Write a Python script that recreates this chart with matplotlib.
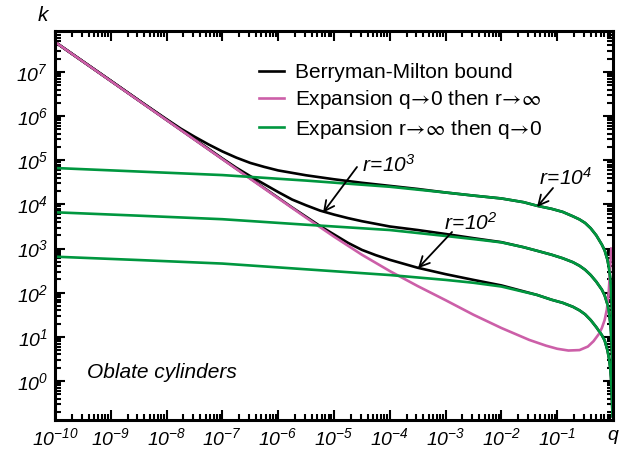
import numpy as np
import matplotlib
matplotlib.use('Agg')
import matplotlib.pyplot as plt
from matplotlib.lines import Line2D
from matplotlib.font_manager import FontProperties
from matplotlib.ticker import FixedLocator, FixedFormatter, LogLocator, NullFormatter

plt.rcParams['font.family'] = ['Liberation Sans', 'DejaVu Sans']
plt.rcParams['mathtext.fontset'] = 'custom'
plt.rcParams['mathtext.rm'] = 'Liberation Sans:italic'
plt.rcParams['mathtext.it'] = 'Liberation Sans:italic'
plt.rcParams['mathtext.bf'] = 'Liberation Sans:bold:italic'

# Values, as log10(q) and log10(k)
# Expansion q->0 then r->inf (one curve)
magenta_logq = [-10.0, -9.0, -8.0, -7.0, -6.5, -6.0, -5.5, -5.0, -4.5, -4.0, -3.5, -3.0,
                -2.5, -2.0, -1.5, -1.2, -1.0, -0.8, -0.6, -0.45, -0.35, -0.25, -0.2,
                -0.15, -0.11, -0.08, -0.06, -0.045, -0.03]
magenta_logk = [7.68, 6.795, 5.91, 5.025, 4.58, 4.14, 3.70, 3.27, 2.86, 2.49, 2.15, 1.83,
                1.50, 1.20, 0.93, 0.80, 0.73, 0.69, 0.70, 0.78, 0.90, 1.07, 1.20,
                1.38, 1.62, 1.95, 2.35, 2.70, 3.00]

# Expansion r->inf then q->0, r = 1e4, 1e3, 1e2
green_logq = [-10.0, -8.5, -7.0, -5.5, -4.0, -3.0, -2.5, -2.0, -1.6, -1.362, -1.1, -0.9,
              -0.717, -0.6, -0.5, -0.4, -0.3, -0.2, -0.15, -0.1, -0.07, -0.05, -0.036,
              -0.025, -0.015, -0.008]
green4_logk = [4.825, 4.745, 4.665, 4.54, 4.40, 4.27, 4.20, 4.135, 4.05, 3.97, 3.90, 3.83,
               3.73, 3.66, 3.58, 3.46, 3.30, 3.09, 2.96, 2.75, 2.55, 2.33, 2.06,
               1.80, 1.40, 0.90]
green3_logk = [3.822, 3.745, 3.665, 3.54, 3.42, 3.285, 3.215, 3.14, 3.03, 2.95, 2.86, 2.78,
               2.69, 2.61, 2.52, 2.40, 2.25, 2.07, 1.94, 1.74, 1.54, 1.33, 1.12,
               0.85, 0.45, 0.10]
green2_logk = [2.816, 2.74, 2.66, 2.53, 2.40, 2.29, 2.225, 2.14, 2.02, 1.95, 1.84, 1.77,
               1.68, 1.60, 1.51, 1.38, 1.22, 1.04, 0.92, 0.70, 0.50, 0.30, 0.08,
               -0.20, -0.55, -0.80]

# Berryman-Milton bound, r = 1e4, 1e3, 1e2 (joins the green curve at large q)
black4_logq = [-10.0, -9.5, -9.0, -8.5, -8.0, -7.75, -7.5, -7.25, -7.0, -6.75, -6.5,
               -6.25, -6.0, -5.5, -5.0, -4.5, -4.0, -3.5, -3.0]
black4_logk = [7.68, 7.24, 6.80, 6.36, 5.93, 5.72, 5.535, 5.36, 5.20, 5.06, 4.94,
               4.85, 4.77, 4.66, 4.57, 4.49, 4.42, 4.35, 4.27]
black3_logq = [-10.0, -9.0, -8.0, -7.5, -7.0, -6.75, -6.5, -6.25, -6.0, -5.75, -5.5,
               -5.25, -5.0, -4.75, -4.5, -4.0, -3.5, -3.0, -2.5, -2.0]
black3_logk = [7.68, 6.80, 5.915, 5.48, 5.04, 4.83, 4.64, 4.46, 4.28, 4.11, 3.98,
               3.86, 3.77, 3.69, 3.62, 3.50, 3.42, 3.33, 3.235, 3.145]
black2_logq = [-10.0, -9.0, -8.0, -7.0, -6.5, -6.0, -5.75, -5.5, -5.25, -5.0, -4.75,
               -4.5, -4.25, -4.0, -3.5, -3.0, -2.5, -2.0, -1.6]
black2_logk = [7.68, 6.80, 5.915, 5.03, 4.59, 4.15, 3.93, 3.72, 3.51, 3.32, 3.13,
               2.97, 2.85, 2.745, 2.565, 2.42, 2.29, 2.165, 2.03]

x_tick_labels = [r'$10^{-10}$', r'$10^{-9}$', r'$10^{-8}$', r'$10^{-7}$', r'$10^{-6}$',
                 r'$10^{-5}$', r'$10^{-4}$', r'$10^{-3}$', r'$10^{-2}$', r'$10^{-1}$', 'q']
y_tick_labels = [r'$10^{0}$', r'$10^{1}$', r'$10^{2}$', r'$10^{3}$', r'$10^{4}$',
                 r'$10^{5}$', r'$10^{6}$', r'$10^{7}$']

black = 'black'
magenta = '#cc5fa8'
green = '#00973f'

###############################################################################
fig = plt.figure(figsize=(6.28, 4.57), dpi=100)
ax = fig.add_axes([55/628, 1 - 420/457, 558/628, 389/457])

lw = 1.9
gq = np.array(green_logq)
for bq, bk, gk in [(black4_logq, black4_logk, green4_logk),
                   (black3_logq, black3_logk, green3_logk),
                   (black2_logq, black2_logk, green2_logk)]:
    # after joining, the bound runs along the green curve
    tail = gq > bq[-1]
    q = np.concatenate([bq, gq[tail]])
    k = np.concatenate([bk, np.array(gk)[tail]])
    ax.plot(10**q, 10**k, color=black, lw=lw)
ax.plot(10**np.array(magenta_logq), 10**np.array(magenta_logk), color=magenta, lw=lw)
for gk in [green4_logk, green3_logk, green2_logk]:
    ax.plot(10**gq, 10**np.array(gk), color=green, lw=lw)

ax.set_xscale('log')
ax.set_yscale('log')
ax.set_xlim(1e-10, 1)
ax.set_ylim(10**-0.884, 10**7.929)

ax.xaxis.set_major_locator(FixedLocator([10.0**e for e in range(-10, 1)]))
ax.xaxis.set_major_formatter(FixedFormatter(x_tick_labels))
ax.xaxis.set_minor_locator(LogLocator(base=10, subs=np.arange(2, 10), numticks=30))
ax.xaxis.set_minor_formatter(NullFormatter())
ax.yaxis.set_major_locator(FixedLocator([10.0**e for e in range(0, 8)]))
ax.yaxis.set_major_formatter(FixedFormatter(y_tick_labels))
ax.yaxis.set_minor_locator(LogLocator(base=10, subs=np.arange(2, 10), numticks=30))
ax.yaxis.set_minor_formatter(NullFormatter())

ax.tick_params(which='both', direction='in', top=True, right=True, width=1.5)
ax.tick_params(which='major', length=7.5, labelsize=14, pad=5)
ax.tick_params(which='minor', length=4)
for lab in ax.get_xticklabels() + ax.get_yticklabels():
    lab.set_style('italic')
for s in ax.spines.values():
    s.set_linewidth(2.2)

# legend (arrows and infinity from the STIX sans math font)
handles = [Line2D([], [], color=black, lw=lw),
           Line2D([], [], color=magenta, lw=lw),
           Line2D([], [], color=green, lw=lw)]
labels = ['Berryman-Milton bound',
          r'Expansion q$\!\rightarrow\!$0 then r$\!\rightarrow\!\infty$',
          r'Expansion r$\!\rightarrow\!\infty$ then q$\!\rightarrow\!$0']
leg_font = FontProperties(family=['Liberation Sans', 'DejaVu Sans'], size=15,
                          math_fontfamily='stixsans')
ax.legend(handles, labels, loc='upper left', bbox_to_anchor=(0.34, 0.955),
          frameon=False, prop=leg_font, handlelength=1.2, handletextpad=0.5,
          labelspacing=0.3, borderpad=0.2)

# annotations
arrow = dict(arrowstyle='->', lw=1.3, color='k', shrinkA=0, shrinkB=0, mutation_scale=18)
ax.annotate('', xy=(10**-5.197, 10**3.813), xytext=(10**-4.588, 10**4.848), arrowprops=arrow)
ax.text(10**-4.50, 10**4.89, r'$r\!=\!10^3$', fontsize=15, va='center', ha='left')
ax.annotate('', xy=(10**-3.495, 10**2.553), xytext=(10**-2.885, 10**3.375), arrowprops=arrow)
ax.text(10**-3.03, 10**3.58, r'$r\!=\!10^2$', fontsize=15, va='center', ha='left')
ax.annotate('', xy=(10**-1.362, 10**3.942), xytext=(10**-1.075, 10**4.372), arrowprops=arrow)
ax.text(10**-1.33, 10**4.60, r'$r\!=\!10^4$', fontsize=15, va='center', ha='left')

ax.text(0.057, 0.121, 'Oblate cylinders', transform=ax.transAxes, fontsize=15,
        style='italic', va='center', ha='left')
ax.text(-0.022, 1.04, 'k', transform=ax.transAxes, fontsize=15, style='italic',
        va='center', ha='center')

fig.savefig('out.png', dpi=100)
